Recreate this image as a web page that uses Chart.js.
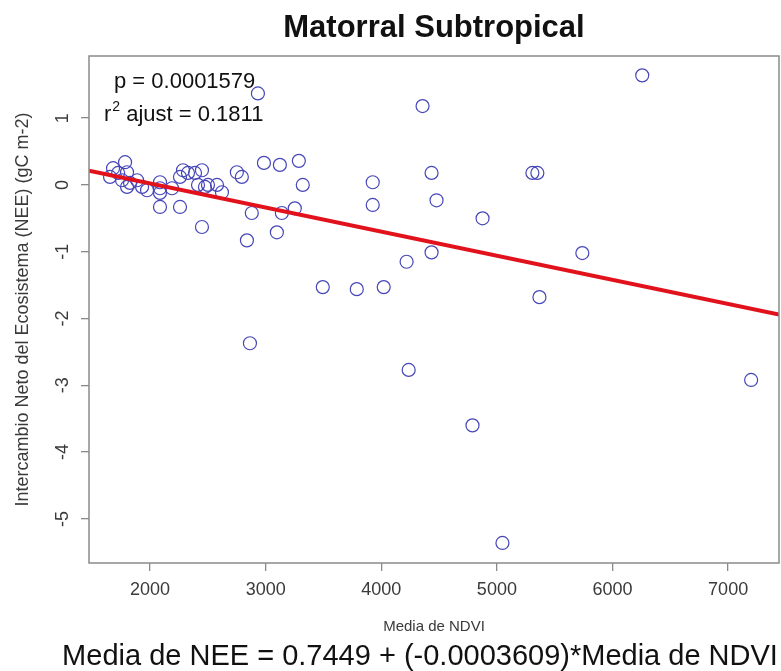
<!DOCTYPE html>
<html><head><meta charset="utf-8">
<script src="https://cdn.jsdelivr.net/npm/chart.js@4.4.1/dist/chart.umd.min.js"></script>
<style>html,body{margin:0;padding:0;background:#fff;}</style>
</head><body>
<canvas id="c" width="781" height="671"></canvas>
<script>
// ---- data ----
const chartTitle = "Matorral Subtropical";
const xAxisTitle = "Media de NDVI";
const yAxisTitle = "Intercambio Neto del Ecosistema (NEE) (gC m-2)";
const equationText = "Media de NEE = 0.7449 + (-0.0003609)*Media de NDVI";
const pText = "p = 0.0001579";
const r2Label = "r";
const r2Sup = "2";
const r2Rest = " ajust = 0.1811";
const interceptCoef = 0.7449;
const slopeCoef = -0.0003609;
const xTicks = [2000, 3000, 4000, 5000, 6000, 7000];
const yTicks = [-5, -4, -3, -2, -1, 0, 1];
const xLimits = [1472, 7440];
const yLimits = [-5.66, 1.93];
const ndvi = [1784,1680,1654,1724,1801,1758,1827,1888,1801,1931,1974,2086,2086,2086,2086,2259,2190,2259,2285,2328,2389,2449,2415,2475,2501,2579,2622,2449,2751,2794,
              2880,2838,2985,3123,3287,3321,3140,3252,3097,2933,6257,4357,3926,4435,4478,4876,3926,4435,4219,5307,5350,5739,5368,7199,2864,3494,3788,4021,4237,4789,5048];
const nee  = [0.34,0.25,0.12,0.18,0.19,0.07,0.03,0.07,-0.03,-0.03,-0.08,0.04,-0.05,-0.12,-0.33,-0.33,-0.05,0.12,0.22,0.18,0.18,0.22,0.00,-0.03,0.00,0.00,-0.11,-0.63,0.19,0.12,
              -0.42,-0.83,0.33,0.30,0.36,0.00,-0.42,-0.35,-0.71,1.37,1.64,1.18,0.04,0.18,-0.23,-0.50,-0.30,-1.01,-1.15,0.18,0.18,-1.02,-1.68,-2.92,-2.37,-1.53,-1.56,-1.53,-2.77,-3.60,-5.36];

const points = ndvi.map((x, i) => ({x: x, y: nee[i]}));
const fitLine = xLimits.map(x => ({x: x, y: interceptCoef + slopeCoef * x}));

const axisGray = '#8a8a8a';
const textGray = '#3a3a3a';

const decor = {
  id: 'decor',
  afterDatasetsDraw(chart) {
    const {ctx, chartArea: a} = chart;
    ctx.save();
    // frame box
    ctx.strokeStyle = axisGray;
    ctx.lineWidth = 1.5;
    ctx.strokeRect(a.left, a.top, a.right - a.left, a.bottom - a.top);
    // title
    ctx.fillStyle = '#111';
    ctx.font = 'bold 31px "Liberation Sans", Arial, sans-serif';
    ctx.textAlign = 'center';
    ctx.textBaseline = 'alphabetic';
    ctx.fillText(chartTitle, 434, 37);
    // annotation
    ctx.fillStyle = '#111';
    ctx.textAlign = 'left';
    ctx.textBaseline = 'middle';
    ctx.font = '22px "Liberation Sans", Arial, sans-serif';
    ctx.fillText(pText, a.left + 25, 82);
    let x0 = a.left + 15;
    ctx.fillText(r2Label, x0, 115);
    x0 += ctx.measureText(r2Label).width;
    ctx.font = '14px "Liberation Sans", Arial, sans-serif';
    ctx.fillText(r2Sup, x0 + 1, 107);
    x0 += ctx.measureText(r2Sup).width + 1;
    ctx.font = '22px "Liberation Sans", Arial, sans-serif';
    ctx.fillText(r2Rest, x0, 115);
    // equation
    ctx.textAlign = 'center';
    let fs = 26;
    ctx.font = fs + 'px "Liberation Sans Narrow", "Liberation Sans", Arial, sans-serif';
    const w = ctx.measureText(equationText).width;
    fs = Math.max(22, Math.min(30, fs * 716 / w));
    ctx.font = fs + 'px "Liberation Sans Narrow", "Liberation Sans", Arial, sans-serif';
    ctx.fillText(equationText, 420, 657);
    ctx.restore();
  }
};

new Chart(document.getElementById('c'), {
  type: 'scatter',
  data: {
    datasets: [
      {
        type: 'line',
        data: fitLine,
        borderColor: '#e2121c',
        borderWidth: 4,
        pointRadius: 0,
        fill: false,
        order: 0
      },
      {
        data: points,
        pointStyle: 'circle',
        pointRadius: 6.5,
        pointBorderWidth: 1.2,
        borderColor: '#4646b8',
        backgroundColor: 'rgba(0,0,0,0)',
        order: 1
      }
    ]
  },
  options: {
    responsive: false,
    animation: false,
    events: [],
    layout: {autoPadding: false, padding: {top: 56, right: 2, left: 0, bottom: 0}},
    plugins: {legend: {display: false}, tooltip: {enabled: false}, title: {display: false}},
    scales: {
      x: {
        type: 'linear',
        min: xLimits[0], max: xLimits[1],
        afterBuildTicks: s => { s.ticks = xTicks.map(v => ({value: v})); },
        afterFit: s => { s.height = 108; s.paddingLeft = 0; s.paddingRight = 0; },
        border: {display: false},
        grid: {drawOnChartArea: false, drawTicks: true, tickLength: 8, color: axisGray, lineWidth: 1.3},
        ticks: {
          color: textGray, padding: 8, maxRotation: 0, autoSkip: false,
          font: {family: '"Liberation Sans Narrow", "Liberation Sans", Arial, sans-serif', size: 18},
          callback: v => String(v)
        },
        title: {
          display: true, text: xAxisTitle, color: textGray,
          font: {family: '"Liberation Sans", Arial, sans-serif', size: 15},
          padding: {top: 0, bottom: 35}
        }
      },
      y: {
        type: 'linear',
        min: yLimits[0], max: yLimits[1],
        afterBuildTicks: s => { s.ticks = yTicks.map(v => ({value: v})); },
        afterFit: s => { s.width = 89; s.paddingTop = 0; s.paddingBottom = 0; },
        border: {display: false},
        grid: {drawOnChartArea: false, drawTicks: true, tickLength: 8, color: axisGray, lineWidth: 1.3},
        ticks: {
          color: textGray, padding: 10, minRotation: 90, maxRotation: 90, crossAlign: 'center', autoSkip: false,
          font: {family: '"Liberation Sans", Arial, sans-serif', size: 18},
          callback: v => String(v)
        },
        title: {
          display: true, text: yAxisTitle, color: textGray,
          font: {family: '"Liberation Sans", Arial, sans-serif', size: 18},
          padding: {top: 12, bottom: 0}
        }
      }
    }
  },
  plugins: [decor]
});
</script>
</body></html>
